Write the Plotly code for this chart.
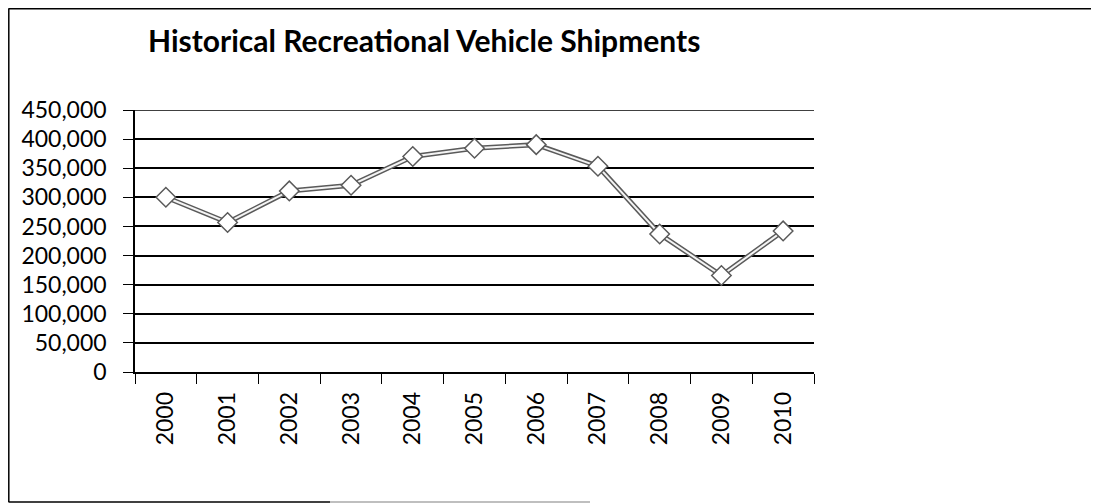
import plotly.graph_objects as go

years = ["2000", "2001", "2002", "2003", "2004", "2005", "2006", "2007", "2008", "2009", "2010"]
shipments = [300100, 256800, 311000, 320800, 370100, 384400, 390500, 353400, 237000, 165700, 242300]
y_ticks = [0, 50000, 100000, 150000, 200000, 250000, 300000, 350000, 400000, 450000]
y_labels = ["0", "50,000", "100,000", "150,000", "200,000", "250,000", "300,000", "350,000", "400,000", "450,000"]
title = "Historical Recreational Vehicle Shipments"

# page body has an 8px margin; work in screen pixels and convert
OFF = 8
W, H = 1099 - OFF, 504 - OFF
PL, PR, PT, PB = 135, 814, 110, 372  # plot area in screen px
L, R, T, B = PL - OFF, W - (PR - OFF), PT - OFF, H - (PB - OFF)
pw, ph = W - L - R, H - T - B

def px(x):
    return (x - OFF - L) / pw

def py(y):
    return (H - B - (y - OFF)) / ph

fig = go.Figure()
fig.add_trace(go.Scatter(
    x=years, y=shipments, mode="lines",
    line=dict(color="#5a5a5a", width=5), hoverinfo="skip", showlegend=False))
fig.add_trace(go.Scatter(
    x=years, y=shipments, mode="lines+markers",
    line=dict(color="#f4f4f4", width=2),
    marker=dict(symbol="diamond", size=15, color="white",
                line=dict(color="#5a5a5a", width=1.5)),
    showlegend=False))

font = "Lato, 'Open Sans', sans-serif"
fig.update_layout(
    width=W, height=H,
    margin=dict(l=L, r=R, t=T, b=B),
    paper_bgcolor="white", plot_bgcolor="white",
    annotations=[dict(text="<b>" + title + "</b>", xref="paper", yref="paper",
                      x=px(146), y=py(40), xanchor="left", yanchor="middle",
                      showarrow=False, font=dict(family=font, size=30, color="black"))],
    xaxis=dict(type="category", tickson="boundaries", ticks="outside", ticklen=10,
               tickcolor="black", tickwidth=1.2, showline=True, linecolor="black", linewidth=1.5,
               showgrid=False, tickangle=-90, ticklabelstandoff=9,
               tickfont=dict(family=font, size=23, color="black"),
               range=[-0.5, len(years) - 0.5], fixedrange=True),
    yaxis=dict(range=[0, 450000], tickvals=y_ticks, ticktext=y_labels, ticks="outside",
               ticklen=10, tickcolor="black", tickwidth=1.2, showline=True, linecolor="black",
               linewidth=1.5, showgrid=True, gridcolor="black", gridwidth=1.5, zeroline=False,
               ticklabelstandoff=12,
               tickfont=dict(family=font, size=23, color="black"), fixedrange=True),
    shapes=[
        dict(type="line", xref="paper", yref="y", x0=0, x1=1, y0=y_ticks[-1], y1=y_ticks[-1],
             line=dict(color="black", width=1.5)),
        dict(type="line", xref="paper", yref="paper", x0=px(8.5), x1=px(1093), y0=py(8.8), y1=py(8.8),
             line=dict(color="black", width=1.5)),
        dict(type="line", xref="paper", yref="paper", x0=px(8.8), x1=px(8.8), y0=py(8.5), y1=py(502),
             line=dict(color="black", width=1.5)),
        dict(type="line", xref="paper", yref="paper", x0=px(8.5), x1=px(330), y0=py(502), y1=py(502),
             line=dict(color="black", width=1.5)),
        dict(type="line", xref="paper", yref="paper", x0=px(330), x1=px(590), y0=py(502), y1=py(502),
             line=dict(color="#aaaaaa", width=1.5)),
    ],
)

fig.write_html("out.html")
